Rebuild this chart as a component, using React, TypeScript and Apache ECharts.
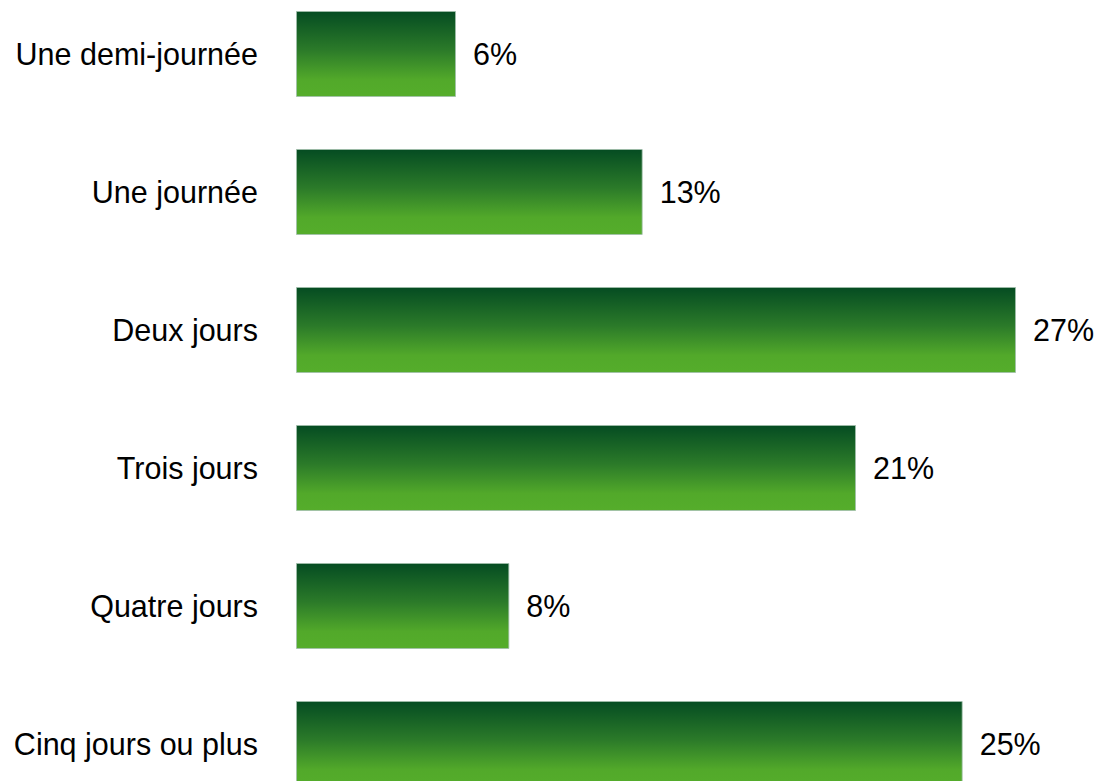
import React, { useEffect, useRef } from "react";
import * as echarts from "echarts";

const categories = [
  "Une demi-journée",
  "Une journée",
  "Deux jours",
  "Trois jours",
  "Quatre jours",
  "Cinq jours ou plus",
];
const values = [6, 13, 27, 21, 8, 25];

export default function App() {
  const ref = useRef<HTMLDivElement>(null);
  useEffect(() => {
    if (!ref.current) return;
    const chart = echarts.init(ref.current, null, { renderer: "svg" });
    chart.setOption({
      animation: false,
      grid: { left: 296, right: 82, top: 0, bottom: 0, containLabel: false },
      xAxis: {
        type: "value",
        min: 0,
        max: 27,
        show: false,
      },
      yAxis: {
        type: "category",
        data: categories,
        inverse: true,
        axisLine: { show: false },
        axisTick: { show: false },
        axisLabel: {
          margin: 38,
          fontSize: 30.5,
          color: "#000",
          fontFamily: "Liberation Sans, Arial, sans-serif",
        },
      },
      series: [
        {
          type: "bar",
          data: values,
          barCategoryGap: "37.7%",
          itemStyle: {
            color: new echarts.graphic.LinearGradient(0, 0, 0, 1, [
              { offset: 0, color: "#054c22" },
              { offset: 0.45, color: "#2b7a29" },
              { offset: 0.8, color: "#52a92a" },
              { offset: 1, color: "#55ad2b" },
            ]),
            borderColor: "rgba(160,190,170,0.8)",
            borderWidth: 1,
          },
          label: {
            show: true,
            position: "right",
            distance: 17,
            formatter: "{c}%",
            fontSize: 30.5,
            color: "#000",
            fontFamily: "Liberation Sans, Arial, sans-serif",
          },
        },
      ],
    });
    return () => chart.dispose();
  }, []);
  return (
    <div
      ref={ref}
      style={{ position: "fixed", left: 0, top: -15, width: 1098, height: 828, background: "#fff" }}
    />
  );
}
